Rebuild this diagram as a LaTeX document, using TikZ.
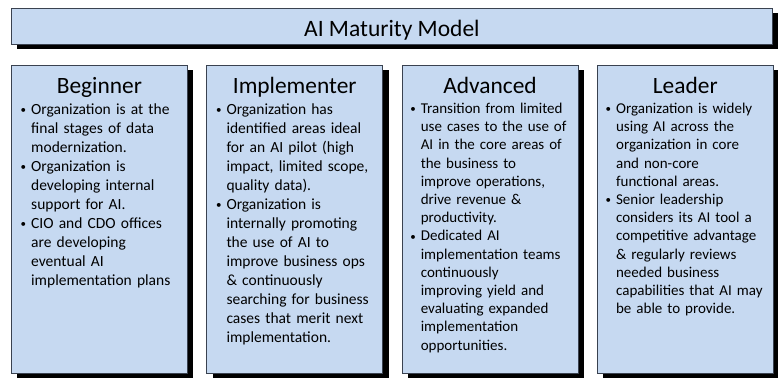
\documentclass[tikz,border=0pt]{standalone}
\usepackage{fontspec}
\setmainfont{Carlito}
\usepackage{enumitem}
\usetikzlibrary{positioning,shadows}
\definecolor{stagefill}{HTML}{C6D9F1}
\definecolor{stageline}{HTML}{3A4250}
\newcommand{\stagelist}[2][20pt]{%
  \begin{itemize}[leftmargin=#1,labelsep=5pt,itemsep=0pt,topsep=0pt,parsep=0pt,partopsep=0pt,
    label={\raisebox{0.8pt}{\fontsize{11}{11}\selectfont\textbullet}}]#2\end{itemize}}

\begin{document}
\begin{tikzpicture}[x=1pt,y=-1pt]
        \tikzset{stagebox/.style={draw=stageline,line width=0.8pt,fill=stagefill,
                minimum width=176pt,minimum height=308pt,inner sep=0pt,anchor=north west,
                drop shadow={shadow xshift=6pt,shadow yshift=-5pt,fill=black,opacity=1}},
            titlebox/.style={stagebox,minimum width=761pt,minimum height=36pt,
                text height=20pt,text depth=0pt,font=\fontsize{23.5}{28}\selectfont},
            stagehead/.style={anchor=base,inner sep=0pt,font=\fontsize{23.4}{28}\selectfont},
            stagetext/.style={anchor=north west,inner sep=0pt,text width=200pt,align=left,
                font=\fontsize{15.5}{19}\selectfont},
            smalltext/.style={stagetext,font=\fontsize{15}{18.2}\selectfont},
            node distance=18.5pt}
        \useasboundingbox (0,0) rectangle (778,378);
        \node[titlebox] (title) at (11,8) {AI Maturity Model};
        \node[stagebox] (beginner) at (11,65) {};
        \node[stagebox,right=of beginner] (implementer) {};
        \node[stagebox,right=of implementer] (advanced) {};
        \node[stagebox,right=of advanced] (leader) {};
        % headings
        \node[stagehead] at ([yshift=-28pt]beginner.north) {Beginner};
        \node[stagehead] at ([yshift=-28pt]implementer.north) {Implementer};
        \node[stagehead] at ([yshift=-28pt]advanced.north) {Advanced};
        \node[stagehead] at ([yshift=-28pt]leader.north) {Leader};
        % bullet texts
        \node[stagetext] (beginner-text) at ([yshift=-30pt]beginner.north west) {\stagelist{
            \item Organization is at the\newline final stages of data\newline modernization.
            \item Organization is\newline developing internal\newline support for AI.
            \item CIO and CDO offices\newline are developing\newline eventual AI\newline implementation plans}};
        \node[stagetext] (implementer-text) at ([yshift=-30pt]implementer.north west) {\stagelist{
            \item Organization has\newline identified areas ideal\newline for an AI pilot (high\newline impact, limited scope,\newline quality data).
            \item Organization is\newline internally promoting\newline the use of AI to\newline improve business ops\newline \& continuously\newline searching for business\newline cases that merit next\newline implementation.}};
        \node[smalltext] (advanced-text) at ([yshift=-30pt]advanced.north west) {\stagelist[19pt]{
            \item Transition from limited\newline use cases to the use of\newline AI in the core areas of\newline the business to\newline improve operations,\newline drive revenue \&\newline productivity.
            \item Dedicated AI\newline implementation teams\newline continuously\newline improving yield and\newline evaluating expanded\newline implementation\newline opportunities.}};
        \node[smalltext] (leader-text) at ([yshift=-30pt]leader.north west) {\stagelist[19pt]{
            \item Organization is widely\newline using AI across the\newline organization in core\newline and non-core\newline functional areas.
            \item Senior leadership\newline considers its AI tool a\newline competitive advantage\newline \& regularly reviews\newline needed business\newline capabilities that AI may\newline be able to provide.}};
    \end{tikzpicture}
\end{document}
